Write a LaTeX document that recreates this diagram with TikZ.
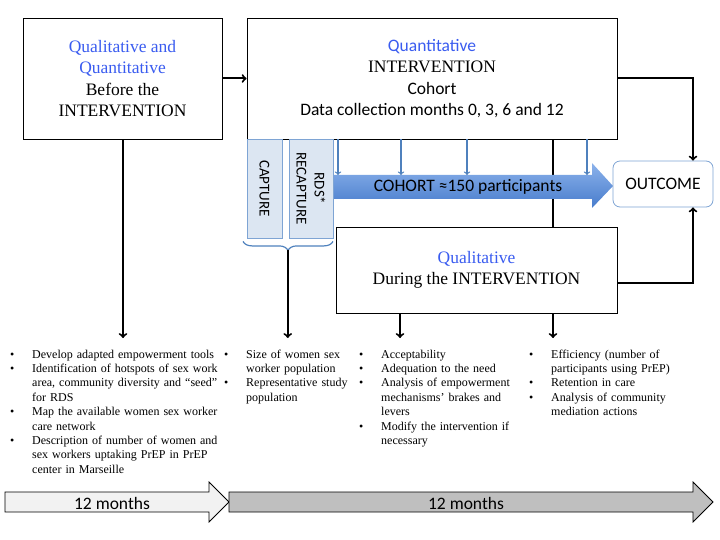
\documentclass[tikz,border=0pt]{standalone}
\usepackage{fontspec}
\setmainfont{Liberation Serif}
\setsansfont{Carlito}
\usetikzlibrary{
    calc,
    arrows,
    decorations.pathreplacing
}
\definecolor{qblue}{RGB}{58,92,240}
\definecolor{capfill}{RGB}{220,230,242}
\definecolor{capline}{RGB}{126,164,212}
\definecolor{steel}{RGB}{79,129,189}
\newcommand{\bul}[1]{\noindent\hangindent=22bp\hangafter=1\makebox[22bp][l]{\textbullet}#1\par}
\tikzset{
    box/.style={draw,fill=white,line width=0.8bp,inner sep=0,align=center,font=\fontsize{17.5bp}{21.2bp}\selectfont},
    capbox/.style={draw=capline,fill=capfill,line width=0.8bp,inner sep=0,align=center,font=\sffamily\fontsize{15bp}{18bp}\selectfont},
    lst/.style={anchor=north west,inner sep=0,text width=#1,align=left,font=\fontsize{12bp}{14.4bp}\selectfont},
    flow/.style={->,line width=2bp},
    tick/.style={->,draw=steel,line width=1.3bp},
    sans/.style={font=\sffamily\fontsize{17.5bp}{21bp}\selectfont}
}

\begin{document}
\begin{tikzpicture}[x=1bp,y=-1bp]
    \useasboundingbox (0,0) rectangle (720,540);

    % top row
    \node[box,minimum width=199bp,minimum height=121bp] (pre) at (122.5,78.5)
        {\textcolor{qblue}{Qualitative and}\\ \textcolor{qblue}{Quantitative}\\ Before the\\ INTERVENTION};
    \node[box,minimum width=370bp,minimum height=121bp] (cohort) at (432,78.5)
        {\textcolor{qblue}{\sffamily Quantitative}\\ INTERVENTION\\ {\sffamily Cohort}\\ {\sffamily Data collection months 0, 3, 6 and 12}};

    \coordinate (a1) at (123,338);
    \coordinate (a3) at (400,338);
    \coordinate (a4) at (553,338);
    \coordinate (shaft) at (333,175);

    \draw[flow] (a4 |- cohort.south) -- (a4);

    % cohort arrow
    \shade[top color={rgb,255:red,139;green,178;blue,235},bottom color={rgb,255:red,72;green,124;blue,204}]
        (shaft) -- (592,175) -- (592,163) -- (613,186) -- (592,208) -- (592,199) -- (333,199) -- cycle;
    \node[sans] (coh) at (468,187) {COHORT ≈150 participants};

    \node[box,minimum width=281bp,minimum height=86bp] (qual) at (476.5,270)
        {\textcolor{qblue}{Qualitative}\\ During the INTERVENTION};

    \node[capbox,rotate=-90,minimum width=99bp,minimum height=35bp] (cap) at (264.5,188.5) {CAPTURE};
    \node[capbox,rotate=-90,minimum width=99bp,minimum height=44bp] (recap) at (311,188.5) {RDS*\\RECAPTURE};

    \node[box,sans,draw=capline,rounded corners=7bp,minimum width=100bp,minimum height=46bp] (out) at (663,184) {OUTCOME};

    \foreach \x in {338,401,467,587}
        \draw[tick] (\x,0 |- cohort.south) -- (\x,0 |- shaft);

    \draw[flow] (pre.east) -- (cohort.west);
    \draw[flow] (cohort.east) -| ([xshift=30bp]out.north);
    \draw[flow] ($(qual.east)+(0,13)$) -| ([xshift=30bp]out.south);

    \draw[steel,line width=1.2bp,decorate,decoration={brace,mirror,amplitude=9bp}]
        ($(cap.east)+(-21.5,3)$) -- ($(recap.east)+(22,3)$);
    \coordinate (brc) at ($(cap.east)!0.5!(recap.east)+(0,12)$);
    \coordinate (a2) at (brc |- a1);

    \draw[flow] (a1 |- pre.south) -- (a1);
    \draw[flow] (brc) -- (a2);
    \draw[flow] (a3 |- qual.south) -- (a3);

    % lists
    \node[lst=225bp] (l1) at (10,349.5) {%
        \bul{Develop adapted empowerment tools}
        \bul{Identification of hotspots of sex work\newline area, community diversity and “seed”\newline for RDS}
        \bul{Map the available women sex worker\newline care network}
        \bul{Description of number of women and\newline sex workers uptaking PrEP in PrEP\newline center in Marseille}};
    \node[lst=135bp] (l2) at (224,349.5) {%
        \bul{Size of women sex\newline worker population}
        \bul{Representative study\newline population}};
    \node[lst=165bp] (l3) at (359,349.5) {%
        \bul{Acceptability}
        \bul{Adequation to the need}
        \bul{Analysis of empowerment\newline mechanisms’ brakes and\newline levers}
        \bul{Modify the intervention if\newline necessary}};
    \node[lst=165bp] (l4) at (529,349.5) {%
        \bul{Efficiency (number of\newline participants using PrEP)}
        \bul{Retention in care}
        \bul{Analysis of community\newline mediation actions}};

    % timeline
    \filldraw[fill=black!5,line width=0.8bp] (5,492) -- (209,492) -- (209,482) -- (229,502)
        -- (209,522) -- (209,512) -- (5,512) -- cycle;
    \filldraw[fill=black!25,line width=0.8bp] (229,492) -- (693,492) -- (693,482) -- (713,502)
        -- (693,522) -- (693,512) -- (229,512) -- cycle;
    \node[sans] (m1) at (112,503) {12 months};
    \node[sans] (m2) at (466,503) {12 months};
\end{tikzpicture}
\end{document}
